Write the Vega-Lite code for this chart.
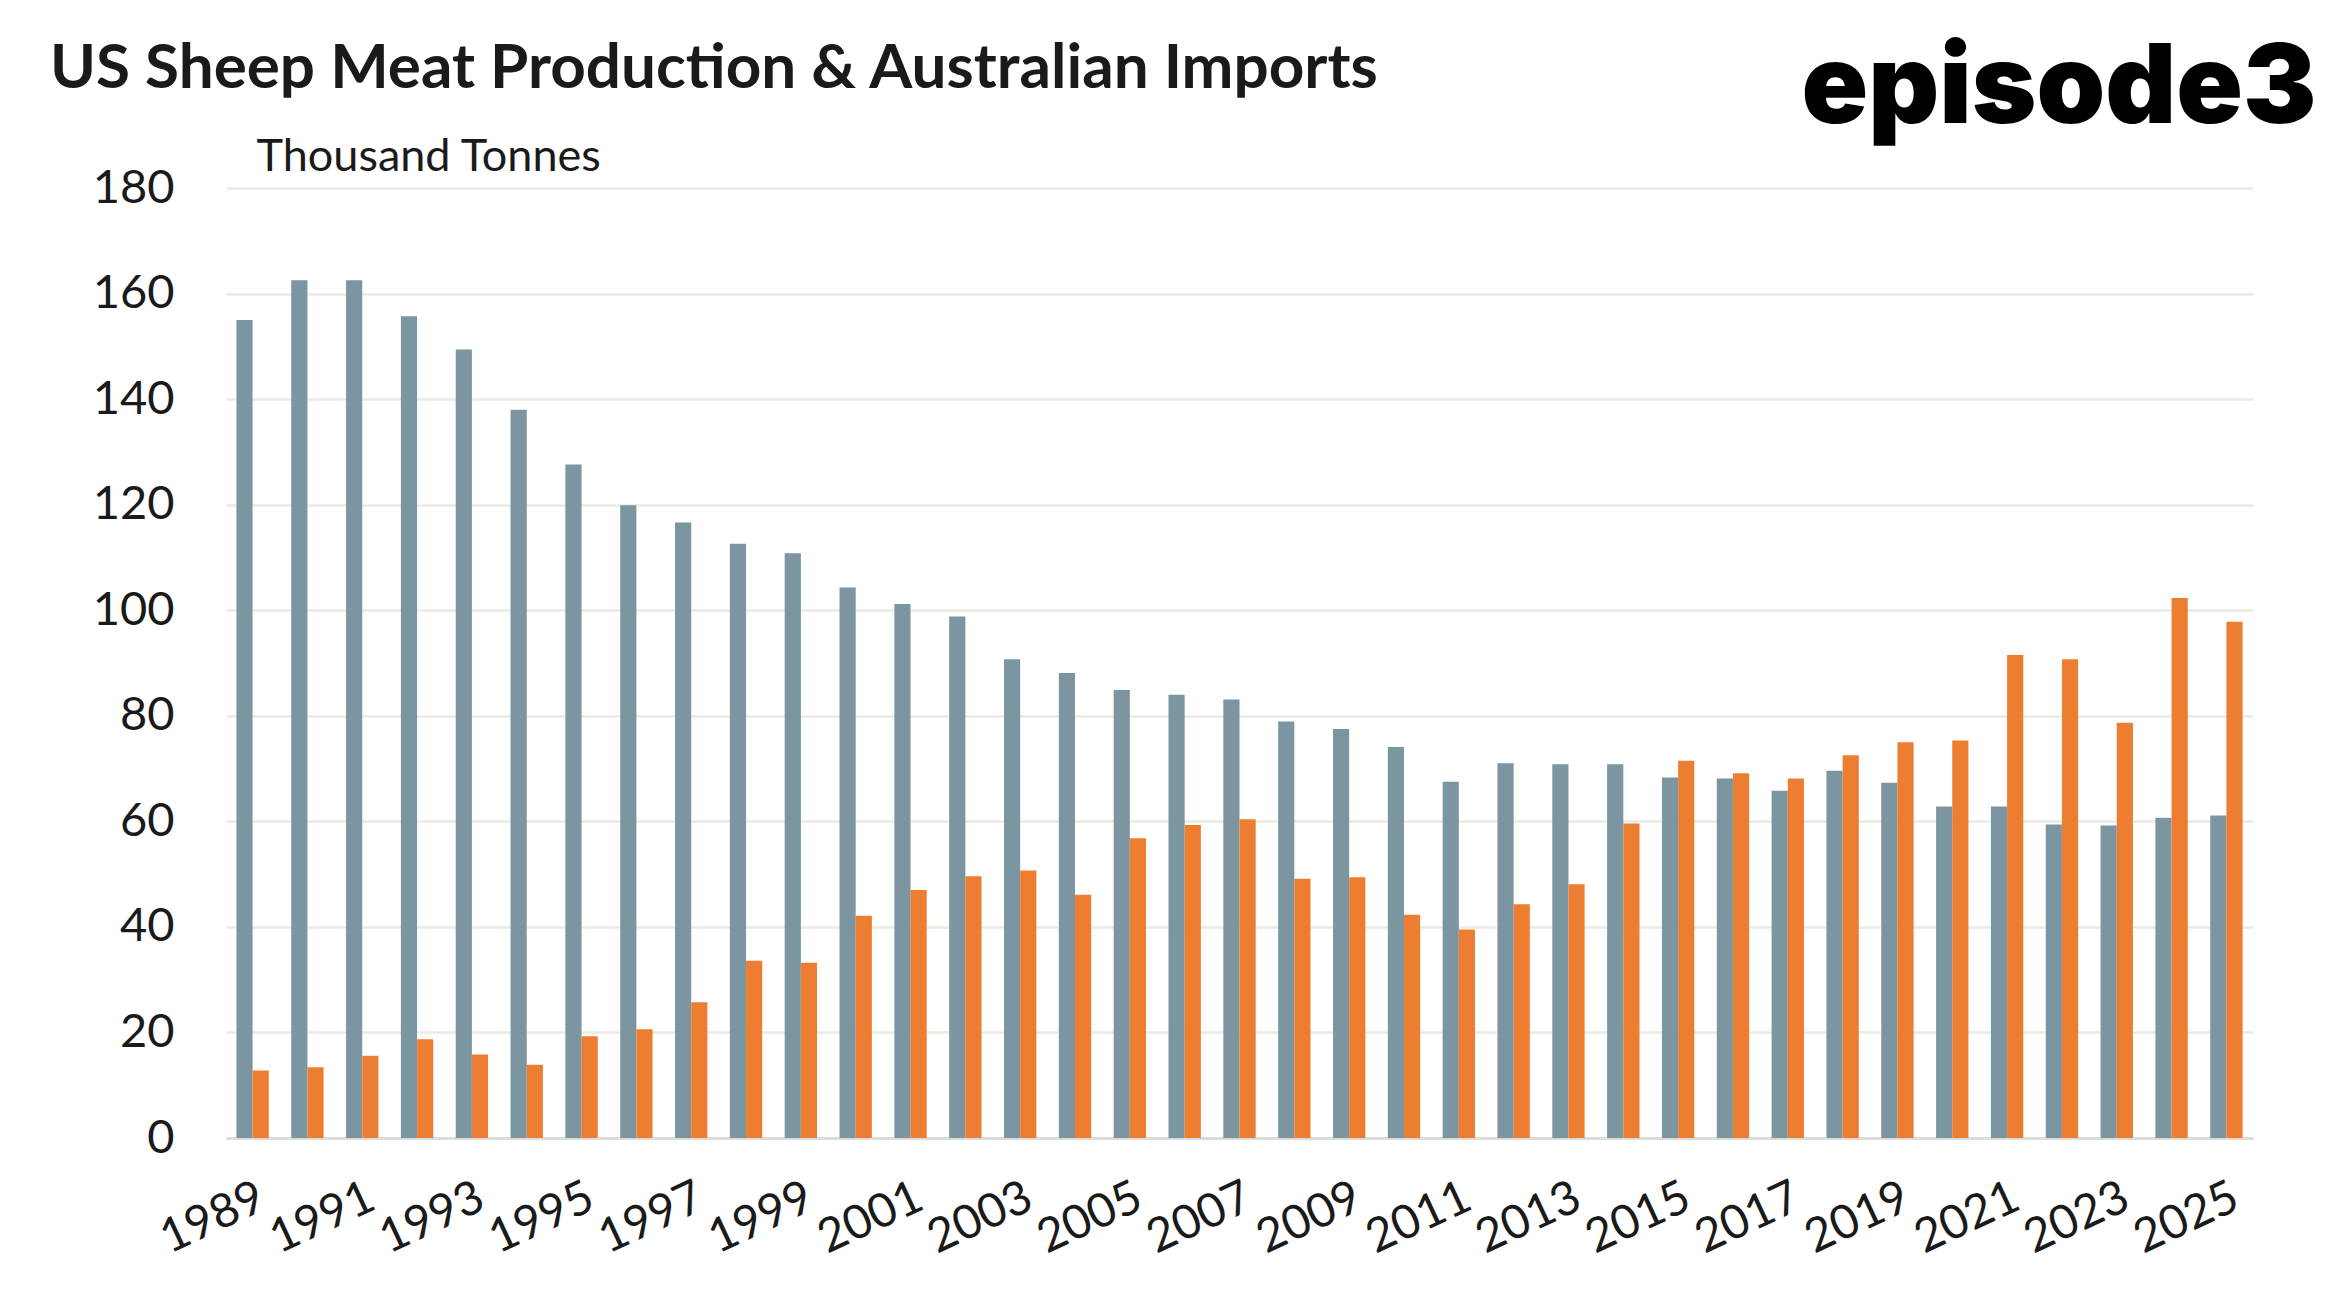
{
  "$schema": "https://vega.github.io/schema/vega-lite/v6.json",
  "width": 2027,
  "height": 950,
  "autosize": {"type": "none"},
  "padding": {"left": 226, "top": 188, "right": 98, "bottom": 168},
  "background": "white",
  "title": {
    "text": "US Sheep Meat Production & Australian Imports",
    "anchor": "start",
    "frame": "group",
    "font": "Lato",
    "fontWeight": "bold",
    "fontSize": 62,
    "color": "#1a1a1a",
    "baseline": "alphabetic",
    "dx": -176,
    "dy": 116,
    "offset": 0
  },
  "data": {
    "values": [
      {"year": 1989, "series": "US Production", "value": 155.0},
      {"year": 1990, "series": "US Production", "value": 162.5},
      {"year": 1991, "series": "US Production", "value": 162.5},
      {"year": 1992, "series": "US Production", "value": 155.7},
      {"year": 1993, "series": "US Production", "value": 149.4},
      {"year": 1994, "series": "US Production", "value": 138.0},
      {"year": 1995, "series": "US Production", "value": 127.6},
      {"year": 1996, "series": "US Production", "value": 119.9},
      {"year": 1997, "series": "US Production", "value": 116.6},
      {"year": 1998, "series": "US Production", "value": 112.6},
      {"year": 1999, "series": "US Production", "value": 110.8},
      {"year": 2000, "series": "US Production", "value": 104.3},
      {"year": 2001, "series": "US Production", "value": 101.2},
      {"year": 2002, "series": "US Production", "value": 98.8},
      {"year": 2003, "series": "US Production", "value": 90.7},
      {"year": 2004, "series": "US Production", "value": 88.1},
      {"year": 2005, "series": "US Production", "value": 84.9},
      {"year": 2006, "series": "US Production", "value": 84.0},
      {"year": 2007, "series": "US Production", "value": 83.1},
      {"year": 2008, "series": "US Production", "value": 78.9},
      {"year": 2009, "series": "US Production", "value": 77.5},
      {"year": 2010, "series": "US Production", "value": 74.1},
      {"year": 2011, "series": "US Production", "value": 67.5},
      {"year": 2012, "series": "US Production", "value": 71.0},
      {"year": 2013, "series": "US Production", "value": 70.8},
      {"year": 2014, "series": "US Production", "value": 70.8},
      {"year": 2015, "series": "US Production", "value": 68.3},
      {"year": 2016, "series": "US Production", "value": 68.1},
      {"year": 2017, "series": "US Production", "value": 65.8},
      {"year": 2018, "series": "US Production", "value": 69.6},
      {"year": 2019, "series": "US Production", "value": 67.3},
      {"year": 2020, "series": "US Production", "value": 62.8},
      {"year": 2021, "series": "US Production", "value": 62.8},
      {"year": 2022, "series": "US Production", "value": 59.4},
      {"year": 2023, "series": "US Production", "value": 59.2},
      {"year": 2024, "series": "US Production", "value": 60.7},
      {"year": 2025, "series": "US Production", "value": 61.1},
      {"year": 1989, "series": "Australian Imports", "value": 12.8},
      {"year": 1990, "series": "Australian Imports", "value": 13.4},
      {"year": 1991, "series": "Australian Imports", "value": 15.6},
      {"year": 1992, "series": "Australian Imports", "value": 18.7},
      {"year": 1993, "series": "Australian Imports", "value": 15.8},
      {"year": 1994, "series": "Australian Imports", "value": 13.9},
      {"year": 1995, "series": "Australian Imports", "value": 19.3},
      {"year": 1996, "series": "Australian Imports", "value": 20.6},
      {"year": 1997, "series": "Australian Imports", "value": 25.7},
      {"year": 1998, "series": "Australian Imports", "value": 33.6},
      {"year": 1999, "series": "Australian Imports", "value": 33.2},
      {"year": 2000, "series": "Australian Imports", "value": 42.1},
      {"year": 2001, "series": "Australian Imports", "value": 47.0},
      {"year": 2002, "series": "Australian Imports", "value": 49.6},
      {"year": 2003, "series": "Australian Imports", "value": 50.7},
      {"year": 2004, "series": "Australian Imports", "value": 46.1},
      {"year": 2005, "series": "Australian Imports", "value": 56.8},
      {"year": 2006, "series": "Australian Imports", "value": 59.3},
      {"year": 2007, "series": "Australian Imports", "value": 60.4},
      {"year": 2008, "series": "Australian Imports", "value": 49.1},
      {"year": 2009, "series": "Australian Imports", "value": 49.4},
      {"year": 2010, "series": "Australian Imports", "value": 42.3},
      {"year": 2011, "series": "Australian Imports", "value": 39.5},
      {"year": 2012, "series": "Australian Imports", "value": 44.3},
      {"year": 2013, "series": "Australian Imports", "value": 48.1},
      {"year": 2014, "series": "Australian Imports", "value": 59.6},
      {"year": 2015, "series": "Australian Imports", "value": 71.5},
      {"year": 2016, "series": "Australian Imports", "value": 69.1},
      {"year": 2017, "series": "Australian Imports", "value": 68.1},
      {"year": 2018, "series": "Australian Imports", "value": 72.5},
      {"year": 2019, "series": "Australian Imports", "value": 75.0},
      {"year": 2020, "series": "Australian Imports", "value": 75.3},
      {"year": 2021, "series": "Australian Imports", "value": 91.5},
      {"year": 2022, "series": "Australian Imports", "value": 90.7},
      {"year": 2023, "series": "Australian Imports", "value": 78.7},
      {"year": 2024, "series": "Australian Imports", "value": 102.3},
      {"year": 2025, "series": "Australian Imports", "value": 97.8}
    ]
  },
  "encoding": {
    "y": {
      "field": "value",
      "type": "quantitative",
      "scale": {"domain": [0, 180], "nice": false},
      "axis": {
        "values": [0, 20, 40, 60, 80, 100, 120, 140, 160, 180],
        "grid": true,
        "gridColor": "#EBEBE1",
        "gridWidth": 2.5,
        "domain": false,
        "ticks": false,
        "labelFont": "Lato",
        "labelFontSize": 47,
        "labelColor": "#1a1a1a",
        "labelPadding": 52,
        "title": "Thousand Tonnes",
        "titleAngle": 0,
        "titleAlign": "left",
        "titleBaseline": "alphabetic",
        "titleX": 30,
        "titleY": -18,
        "titleFont": "Lato",
        "titleFontWeight": "normal",
        "titleFontSize": 45,
        "titleColor": "#1a1a1a"
      }
    },
    "xOffset": {
      "field": "series",
      "type": "nominal",
      "sort": ["US Production", "Australian Imports"],
      "scale": {"domain": ["US Production", "Australian Imports"], "paddingInner": 0, "paddingOuter": 0}
    },
    "color": {
      "field": "series",
      "type": "nominal",
      "scale": {"domain": ["US Production", "Australian Imports"], "range": ["#7B95A1", "#ED7D31"]},
      "legend": null
    }
  },
  "layer": [
    {
      "transform": [{"filter": "datum.series == 'US Production'"}],
      "mark": {"type": "bar"},
      "encoding": {
        "x": {
          "field": "year",
          "type": "ordinal",
          "scale": {"paddingInner": 0.41, "paddingOuter": 0.19},
          "axis": {
            "orient": "bottom",
            "values": [1989, 1991, 1993, 1995, 1997, 1999, 2001, 2003, 2005, 2007, 2009, 2011, 2013, 2015, 2017, 2019, 2021, 2023, 2025],
            "title": null,
            "grid": false,
            "ticks": false,
            "domain": true,
            "domainColor": "#D9D9D9",
            "domainWidth": 2.5,
            "labelAngle": -25,
            "labelAlign": "right",
            "labelBaseline": "top",
            "labelPadding": 36,
            "labelFont": "Lato",
            "labelFontSize": 47,
            "labelColor": "#1a1a1a"
          }
        }
      }
    },
    {
      "transform": [{"filter": "datum.series == 'Australian Imports'"}],
      "mark": {"type": "bar"},
      "encoding": {
        "x": {
          "field": "year",
          "type": "ordinal",
          "scale": {"paddingInner": 0.41, "paddingOuter": 0.19},
          "axis": {
            "orient": "top",
            "labels": false,
            "ticks": false,
            "domain": false,
            "grid": false,
            "title": "episode3",
            "titleFont": "Inter",
            "titleFontWeight": 900,
            "titleFontSize": 110,
            "titleColor": "#000000",
            "titleAlign": "right",
            "titleAnchor": "end",
            "titleBaseline": "alphabetic",
            "titleX": 2090,
            "titleY": -66
          }
        }
      }
    }
  ],
  "resolve": {"axis": {"x": "independent"}},
  "config": {
    "view": {"stroke": null}
  }
}
